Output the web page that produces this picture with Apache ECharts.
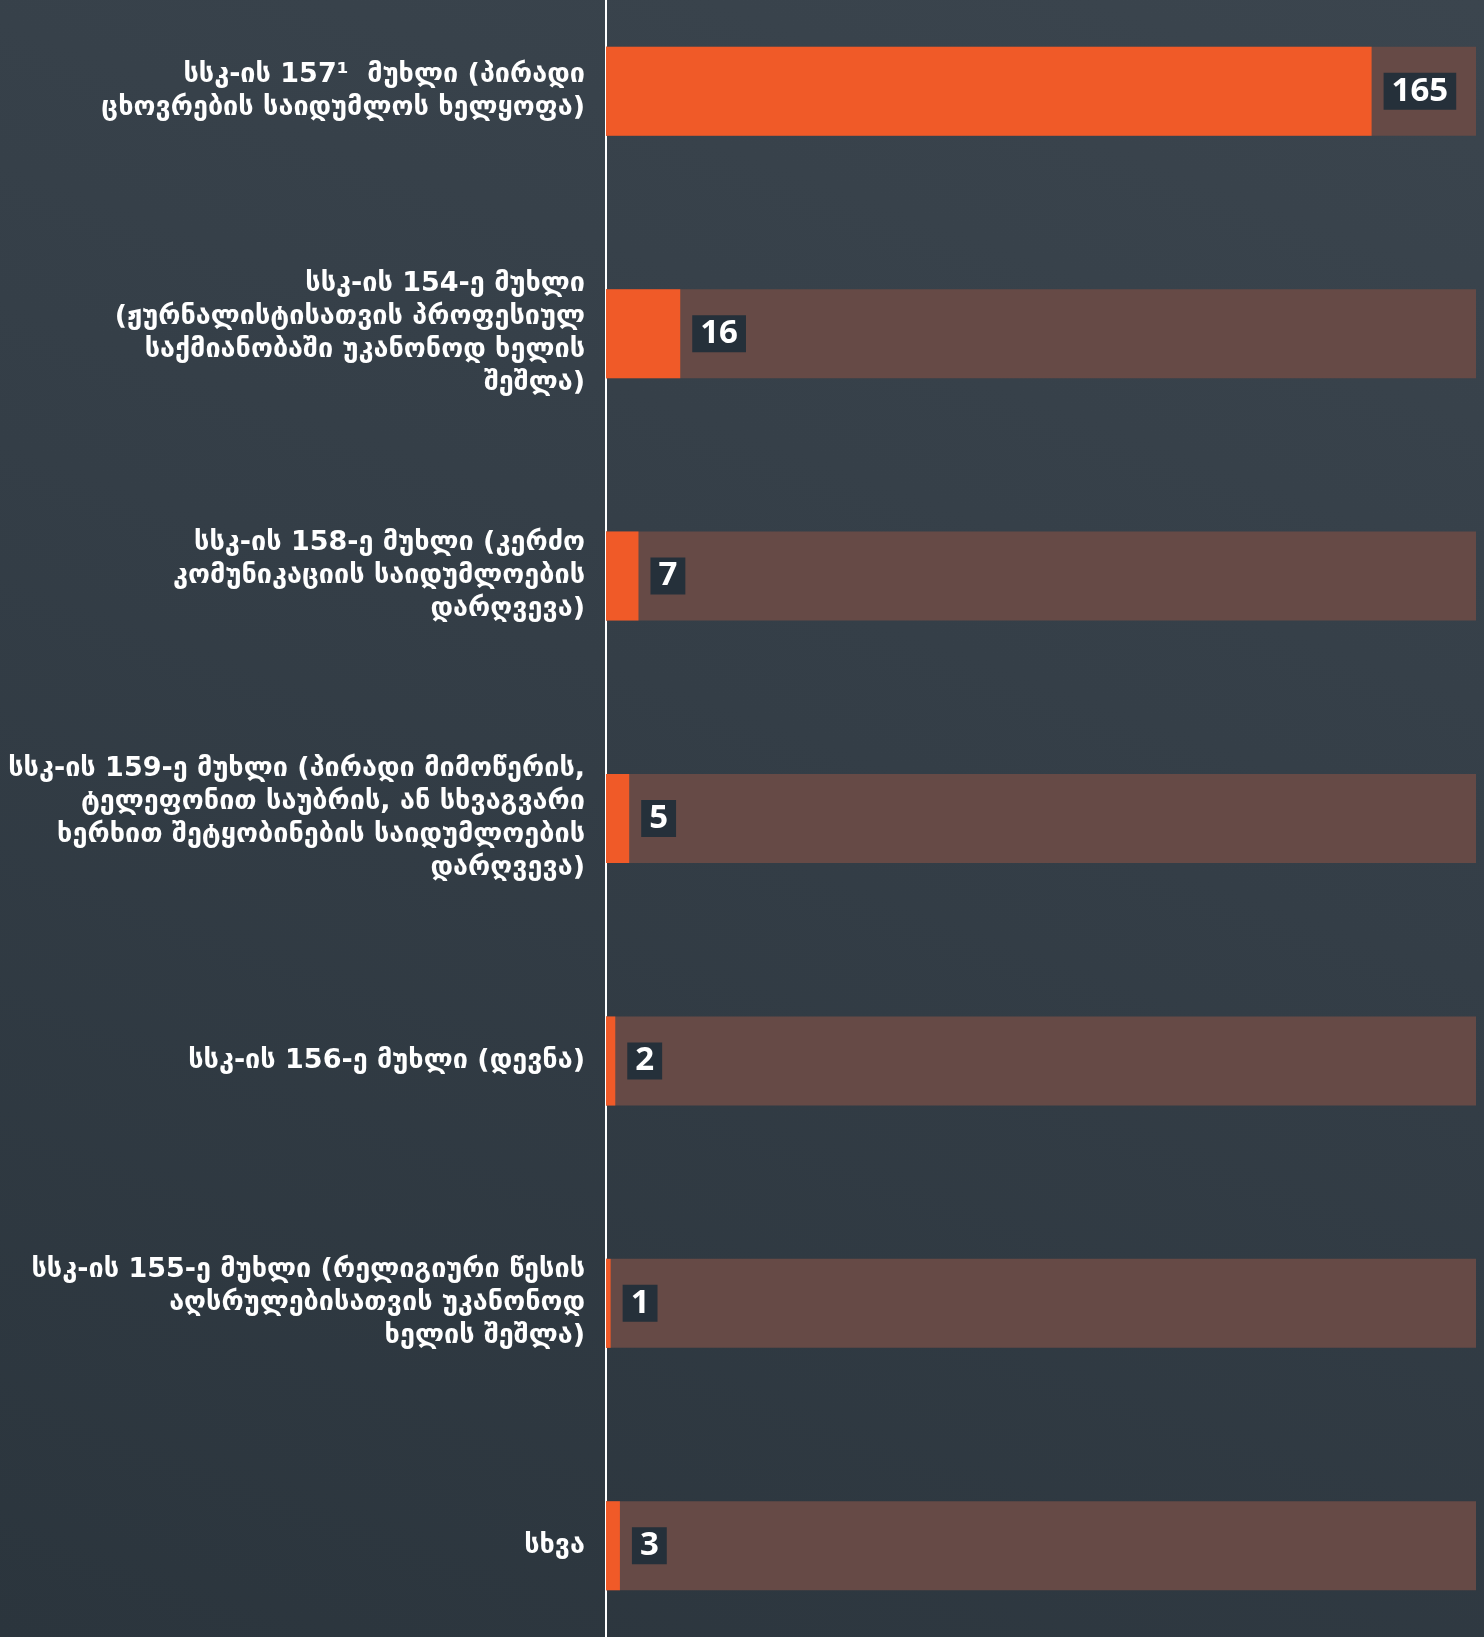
<!DOCTYPE html>
<html>
<head>
<meta charset="utf-8">
<script src="https://cdn.jsdelivr.net/npm/echarts@6/dist/echarts.min.js"></script>
<style>
html,body{margin:0;padding:0;width:1484px;height:1637px;overflow:hidden;}
body{position:relative;background:linear-gradient(200deg,#3b454e 0%,#343e47 45%,#2b353d 100%);}
#chart{position:absolute;left:0;top:-30px;width:1484px;height:1697px;}
</style>
</head>
<body>
<div id="chart"></div>
<script>
const categories = [
  "სსკ-ის 157¹  მუხლი (პირადი\nცხოვრების საიდუმლოს ხელყოფა)",
  "სსკ-ის 154-ე მუხლი\n(ჟურნალისტისათვის პროფესიულ\nსაქმიანობაში უკანონოდ ხელის\nშეშლა)",
  "სსკ-ის 158-ე მუხლი (კერძო\nკომუნიკაციის საიდუმლოების\nდარღვევა)",
  "სსკ-ის 159-ე მუხლი (პირადი მიმოწერის,\nტელეფონით საუბრის, ან სხვაგვარი\nხერხით შეტყობინების საიდუმლოების\nდარღვევა)",
  "სსკ-ის 156-ე მუხლი (დევნა)",
  "სსკ-ის 155-ე მუხლი (რელიგიური წესის\nაღსრულებისათვის უკანონოდ\nხელის შეშლა)",
  "სხვა"
];
const values = [165, 16, 7, 5, 2, 1, 3];
const axisMax = 187.5;

const chart = echarts.init(document.getElementById('chart'), null, {renderer:'canvas'});
chart.setOption({
  backgroundColor: 'transparent',
  animation: false,
  grid: {left: 606, right: 8, top: 0, bottom: 0, containLabel: false},
  xAxis: {
    type: 'value', min: 0, max: axisMax,
    show: false
  },
  yAxis: {
    type: 'category',
    data: categories,
    inverse: true,
    axisLine: {show: true, lineStyle: {color: '#ffffff', width: 2}},
    axisTick: {show: false},
    axisLabel: {
      color: '#ffffff',
      fontFamily: 'DejaVu Sans',
      fontWeight: 'bold',
      fontSize: 27,
      lineHeight: 33,
      align: 'right',
      margin: 21
    }
  },
  series: [{
    type: 'bar',
    data: values,
    barWidth: 89,
    showBackground: true,
    backgroundStyle: {color: '#664a46'},
    itemStyle: {color: '#f05a28'},
    label: {
      show: true,
      position: 'right',
      distance: 12,
      color: '#ffffff',
      fontFamily: 'Open Sans',
      fontWeight: 'bold',
      fontSize: 33,
      lineHeight: 33,
      backgroundColor: '#25303a',
      padding: [2, 8, 2, 8]
    }
  }]
});
</script>
</body>
</html>
